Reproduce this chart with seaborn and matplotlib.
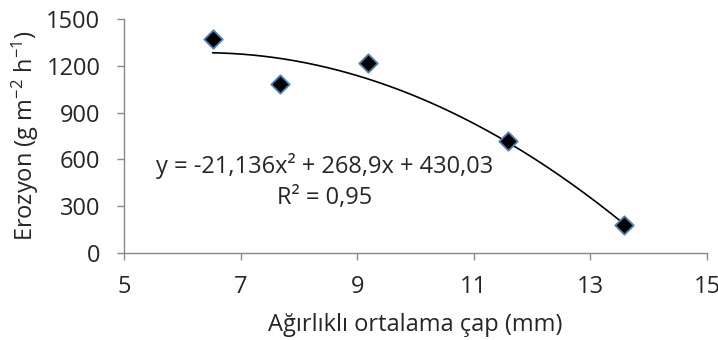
import numpy as np
import pandas as pd
import matplotlib
matplotlib.use('Agg')
import matplotlib.pyplot as plt
import seaborn as sns

# data
cap = [6.52, 7.67, 9.18, 11.58, 13.58]          # Ağırlıklı ortalama çap (mm)
erozyon = [1371, 1084, 1217, 720, 176]          # Erozyon (g m-2 h-1)
coef = [-21.136, 268.9, 430.03]                 # 2nd order trend line shown in chart
x_ticks = [5, 7, 9, 11, 13, 15]
y_ticks = [0, 300, 600, 900, 1200, 1500]
eq_text = 'y = -21,136x² + 268,9x + 430,03'
r2_text = 'R² = 0,95'

sns.set_style('white')
plt.rcParams['font.family'] = ['Open Sans', 'DejaVu Sans']
plt.rcParams['mathtext.fontset'] = 'custom'
plt.rcParams['mathtext.rm'] = 'Open Sans'
plt.rcParams['mathtext.it'] = 'Open Sans:italic'

fs = 17

df = pd.DataFrame({'cap': cap, 'erozyon': erozyon})
xs = np.linspace(min(cap), max(cap), 200)
trend = pd.DataFrame({'cap': xs, 'erozyon': np.polyval(coef, xs)})

fig = plt.figure(figsize=(7.18, 3.4), dpi=100)
ax = fig.add_axes([0.1727, 0.2568, 0.812, 0.6864])

sns.lineplot(data=trend, x='cap', y='erozyon', ax=ax, color='black', linewidth=1.2, zorder=2)
sns.scatterplot(data=df, x='cap', y='erozyon', ax=ax, marker='D', s=88,
                color='black', edgecolor='#4f81bd', linewidth=1.3, zorder=3)

ax.text(8.44, 557, eq_text, ha='center', va='center', fontsize=fs)
ax.text(8.44, 352, r2_text, ha='center', va='center', fontsize=fs)

ax.set_xlim(5, 15)
ax.set_ylim(0, 1500)
ax.set_xticks(x_ticks)
ax.set_yticks(y_ticks)
ax.tick_params(axis='both', labelsize=fs, length=5, width=1, color='#898989',
               direction='out', bottom=True, left=True)
ax.tick_params(axis='y', pad=12)
ax.tick_params(axis='x', pad=11)
for s in ['top', 'right']:
    ax.spines[s].set_visible(False)
for s in ['left', 'bottom']:
    ax.spines[s].set_color('#898989')
    ax.spines[s].set_linewidth(1)
ax.set_xlabel('Ağırlıklı ortalama çap (mm)', fontsize=fs, labelpad=10)
ax.set_ylabel('Erozyon (g m$^{-2}$ h$^{-1}$)', fontsize=fs, labelpad=4)

fig.savefig('out.png', dpi=100)
